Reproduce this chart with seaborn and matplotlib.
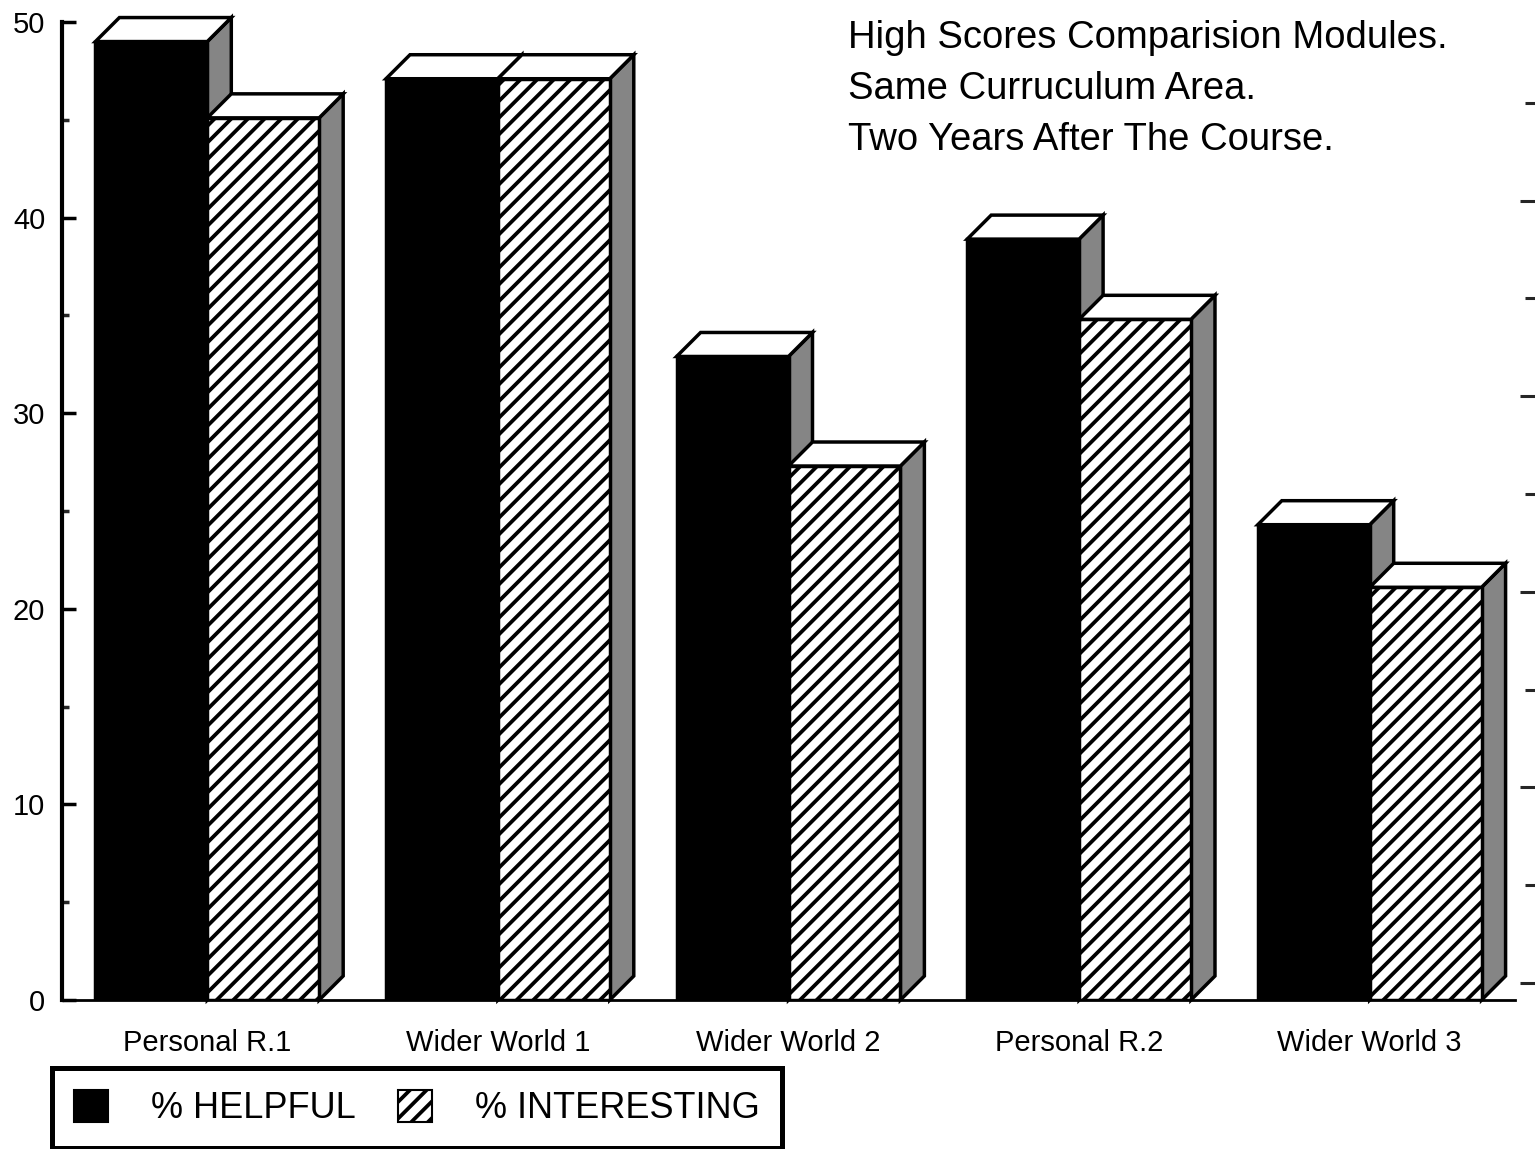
import matplotlib
matplotlib.use("Agg")
import matplotlib.pyplot as plt
from matplotlib.patches import Polygon, Patch
import seaborn as sns
import pandas as pd

modules = ["Personal R.1", "Wider World 1", "Wider World 2", "Personal R.2", "Wider World 3"]
helpful = [49.0, 47.1, 32.9, 38.9, 24.3]
interesting = [45.1, 47.1, 27.3, 34.8, 21.1]
series = ["% HELPFUL", "% INTERESTING"]
title_lines = ["High Scores Comparision Modules.",
               "Same Curruculum Area.",
               "Two Years After The Course."]

sns.set_style("white")
plt.rcParams["font.family"] = ["Liberation Sans", "DejaVu Sans"]
plt.rcParams["text.color"] = "black"
plt.rcParams["hatch.linewidth"] = 2.7
plt.rcParams["hatch.color"] = "black"

df = pd.DataFrame({
    "module": modules * 2,
    "value": helpful + interesting,
    "measure": [series[0]] * len(modules) + [series[1]] * len(modules),
})

W, H = 1535, 1149
fig = plt.figure(figsize=(W / 100, H / 100), dpi=100)
ax = fig.add_axes([62 / W, 1 - 1000 / H, (1515 - 62) / W, (1000 - 22) / H])

sns.barplot(data=df, x="module", y="value", hue="measure",
            palette={series[0]: "black", series[1]: "white"},
            saturation=1, width=0.77, edgecolor="black", linewidth=2.5,
            legend=False, ax=ax)

ax.set_xlim(-0.5, 4.5)
ax.set_ylim(0, 50)

px_x = (1515 - 62) / 5.0
px_y = (1000 - 22) / 50.0
dx = 24 / px_x
dy = 24 / px_y

for p in list(ax.patches):
    fc = p.get_facecolor()
    is_int = fc[0] > 0.5
    x0, w, h = p.get_x(), p.get_width(), p.get_height()
    base_z = 3 if is_int else 2
    p.set_zorder(base_z)
    if is_int:
        p.set_hatch("//")
    top = Polygon([(x0, h), (x0 + w, h), (x0 + w + dx, h + dy), (x0 + dx, h + dy)],
                  closed=True, facecolor="white", edgecolor="black", linewidth=2.5,
                  zorder=base_z + 0.1, clip_on=False)
    side = Polygon([(x0 + w, 0), (x0 + w + dx, dy), (x0 + w + dx, h + dy), (x0 + w, h)],
                   closed=True, facecolor="#858585", edgecolor="black", linewidth=2.5,
                   zorder=base_z - 0.1, clip_on=False)
    ax.add_patch(side)
    ax.add_patch(top)

# axes styling
for s in ["top", "right"]:
    ax.spines[s].set_visible(False)
ax.spines["left"].set_linewidth(3)
ax.spines["bottom"].set_linewidth(2)
ax.spines["left"].set_color("black")
ax.spines["bottom"].set_color("black")

ax.set_yticks([0, 10, 20, 30, 40, 50])
ax.set_yticks([5, 15, 25, 35, 45], minor=True)
ax.tick_params(axis="y", which="major", direction="in", length=10, width=2.5,
               labelsize=21, pad=12, colors="black")
ax.tick_params(axis="y", which="minor", direction="in", length=5, width=2.5)

ax.set_xticks(range(len(modules)))
ax.set_xticklabels(modules)
ax.set_xticks([0.5, 1.5, 2.5, 3.5, 4.5], minor=True)
ax.tick_params(axis="x", which="major", length=0, labelsize=21, pad=21, colors="black")
ax.tick_params(axis="x", which="minor", direction="out", length=7, width=2)
ax.set_xlabel("")
ax.set_ylabel("")

# right-hand (back wall) ticks
axr = ax.twinx()
off = 17 / px_y
axr.set_ylim(-off, 50 - off)
axr.set_yticks([0, 10, 20, 30, 40])
axr.set_yticks([5, 15, 25, 35, 45], minor=True)
axr.set_yticklabels([])
for s in ["top", "left", "bottom"]:
    axr.spines[s].set_visible(False)
axr.spines["right"].set_position(("outward", 14.4))
axr.spines["right"].set_visible(False)
axr.tick_params(axis="y", which="major", direction="in", length=11, width=2.2)
axr.tick_params(axis="y", which="minor", direction="in", length=7, width=2.2)

# title lines
for i, line in enumerate(title_lines):
    fig.text(848 / W, 1 - (48 + 51 * i) / H, line, fontsize=27.5,
             ha="left", va="baseline", color="black")

# legend
handles = [Patch(facecolor="black", edgecolor="black", linewidth=1.5),
           Patch(facecolor="white", edgecolor="black", hatch="//", linewidth=1.5)]
leg = fig.legend(handles, series, loc="upper left",
                 bbox_to_anchor=(52 / W, 1 - 1068 / H), ncol=2,
                 prop={"family": ["Liberation Sans", "DejaVu Sans"], "size": 26},
                 labelcolor="black",
                 frameon=True, fancybox=False, shadow=False, framealpha=1,
                 handlelength=0.95, handleheight=1.0, handletextpad=1.2,
                 columnspacing=1.15, borderpad=0.6, borderaxespad=0)
leg.get_frame().set_edgecolor("black")
leg.get_frame().set_linewidth(3.6)

fig.savefig("out.png", dpi=100)
